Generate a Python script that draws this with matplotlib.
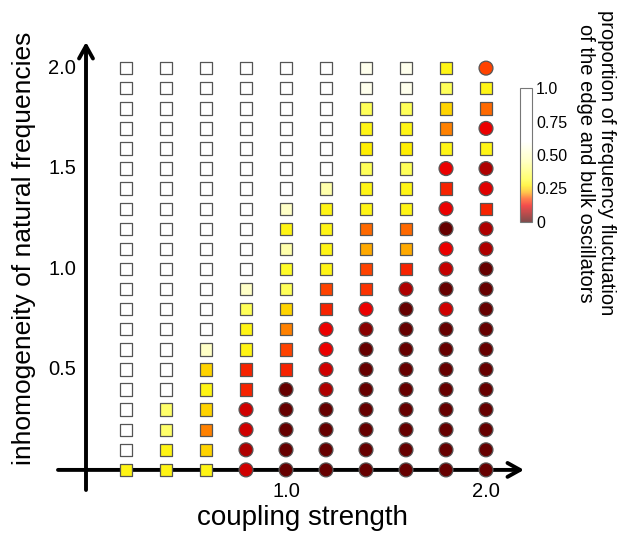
import numpy as np
import matplotlib
matplotlib.use("Agg")
import matplotlib.pyplot as plt
from matplotlib.colors import LinearSegmentedColormap, Normalize
from matplotlib.cm import ScalarMappable

plt.rcParams['font.family'] = ['Liberation Sans', 'DejaVu Sans']

# coupling strength (columns) and inhomogeneity (rows, listed top -> bottom)
coupling = [0.2, 0.4, 0.6, 0.8, 1.0, 1.2, 1.4, 1.6, 1.8, 2.0]
inhomogeneity = [2.0, 1.9, 1.8, 1.7, 1.6, 1.5, 1.4, 1.3, 1.2, 1.1, 1.0,
                 0.9, 0.8, 0.7, 0.6, 0.5, 0.4, 0.3, 0.2, 0.1, 0.0]

W = 0.8
proportion = [
    [W, W, W, W, W, W, .57, .57, .29, .17],
    [W, W, W, W, W, W, .57, .57, .36, .29],
    [W, W, W, W, W, W, .36, .36, .25, .19],
    [W, W, W, W, W, W, .29, .29, .20, .12],
    [W, W, W, W, W, .62, .27, .27, .29, .29],
    [W, W, W, W, W, .60, .36, .36, .12, .075],
    [W, W, W, W, .60, .45, .29, .29, .145, .11],
    [W, W, W, W, .50, .29, .29, .29, .12, .145],
    [W, W, W, W, .29, .29, .19, .19, .02, .075],
    [W, W, W, W, .45, .29, .22, .22, .12, .075],
    [W, W, W, .65, .31, .29, .17, .145, .09, .02],
    [W, W, W, .50, .36, .17, .16, .075, .02, .02],
    [W, W, W, .36, .25, .145, .12, .02, .10, .02],
    [W, W, W, .29, .20, .12, .05, .02, .02, .02],
    [W, W, .50, .29, .17, .12, .02, .02, .02, .02],
    [W, W, .25, .145, .145, .10, .02, .02, .02, .02],
    [W, W, .29, .145, .02, .075, .02, .02, .02, .02],
    [W, .38, .25, .10, .02, .02, .02, .02, .02, .02],
    [W, .38, .20, .10, .02, .02, .02, .02, .02, .02],
    [.60, .29, .25, .075, .02, .02, .02, .02, .02, .02],
    [.29, .29, .29, .10, .02, .02, .02, .02, .02, .02],
]

# marker shape: s = square, o = circle
shapes = [
    "ssssssssso",
    "ssssssssss",
    "ssssssssss",
    "ssssssssso",
    "ssssssssss",
    "ssssssssoo",
    "ssssssssso",
    "ssssssssos",
    "ssssssssoo",
    "ssssssssoo",
    "ssssssssoo",
    "sssssssooo",
    "ssssssoooo",
    "sssssooooo",
    "sssssooooo",
    "sssssooooo",
    "ssssoooooo",
    "sssooooooo",
    "sssooooooo",
    "sssooooooo",
    "sssooooooo",
]

cmap = LinearSegmentedColormap.from_list("edge", [
    (0.0, '#4d0000'), (0.06, '#990000'), (0.12, '#ee0000'),
    (0.17, '#ff4400'), (0.22, '#ffaa00'), (0.27, '#ffee00'),
    (0.32, '#ffff33'), (0.45, '#ffffaa'), (0.6, '#ffffff'),
    (1.0, '#ffffff')])
norm = Normalize(0, 1)

fig = plt.figure(figsize=(6.3, 5.36), dpi=100)
ax = fig.add_axes([58 / 630, 46 / 536, 467 / 630, 450 / 536])
ax.set_xlim(-0.14, 2.195)
ax.set_ylim(-0.1, 2.14)
ax.axis('off')

X, Y = np.meshgrid(coupling, inhomogeneity)
V = np.array(proportion)
S = np.array([list(r) for r in shapes])
for m, size in [('s', 80), ('o', 100)]:
    mask = S == m
    ax.scatter(X[mask], Y[mask], c=V[mask], cmap=cmap, norm=norm, marker=m,
               s=size, edgecolors='#555555', linewidths=0.9, zorder=3,
               clip_on=False)

# axes with arrows
arrow = dict(arrowstyle='->,head_length=0.9,head_width=0.5', lw=2.8,
             color='black', shrinkA=0, shrinkB=0)
ax.annotate('', xy=(2.19, 0), xytext=(-0.14, 0), arrowprops=arrow,
            annotation_clip=False, zorder=2)
ax.annotate('', xy=(0, 2.13), xytext=(0, -0.1), arrowprops=arrow,
            annotation_clip=False, zorder=2)

for v in [1.0, 2.0]:
    ax.text(v, -0.06, f'{v:.1f}', ha='center', va='top', fontsize=14.5)
for v in [0.5, 1.0, 1.5, 2.0]:
    ax.text(-0.05, v, f'{v:.1f}', ha='right', va='center', fontsize=14.5)

fig.text(302 / 630, 1 - 518 / 536, 'coupling strength', ha='center',
         va='center', fontsize=20)
fig.text(24 / 630, 1 - 248 / 536, 'inhomogeneity of natural frequencies',
         ha='center', va='center', rotation=90, fontsize=19)

# colorbar
cax = fig.add_axes([520 / 630, 1 - 222 / 536, 12 / 630, 134 / 536])
cb = fig.colorbar(ScalarMappable(norm=norm, cmap=cmap), cax=cax,
                  ticks=[0, 0.25, 0.5, 0.75, 1.0])
cb.solids.set_alpha(0.7)
cb.ax.set_yticklabels(['0', '0.25', '0.50', '0.75', '1.0'])
cb.ax.tick_params(length=0, labelsize=11.5, pad=3)
cb.outline.set_edgecolor('#777777')
cb.outline.set_linewidth(0.8)
fig.text(596 / 630, 1 - 163 / 536,
         'proportion of frequency fluctuation\nof the edge and bulk oscillators',
         ha='center', va='center', rotation=270, fontsize=14.5,
         linespacing=1.15)

fig.savefig('out.png', dpi=100)
